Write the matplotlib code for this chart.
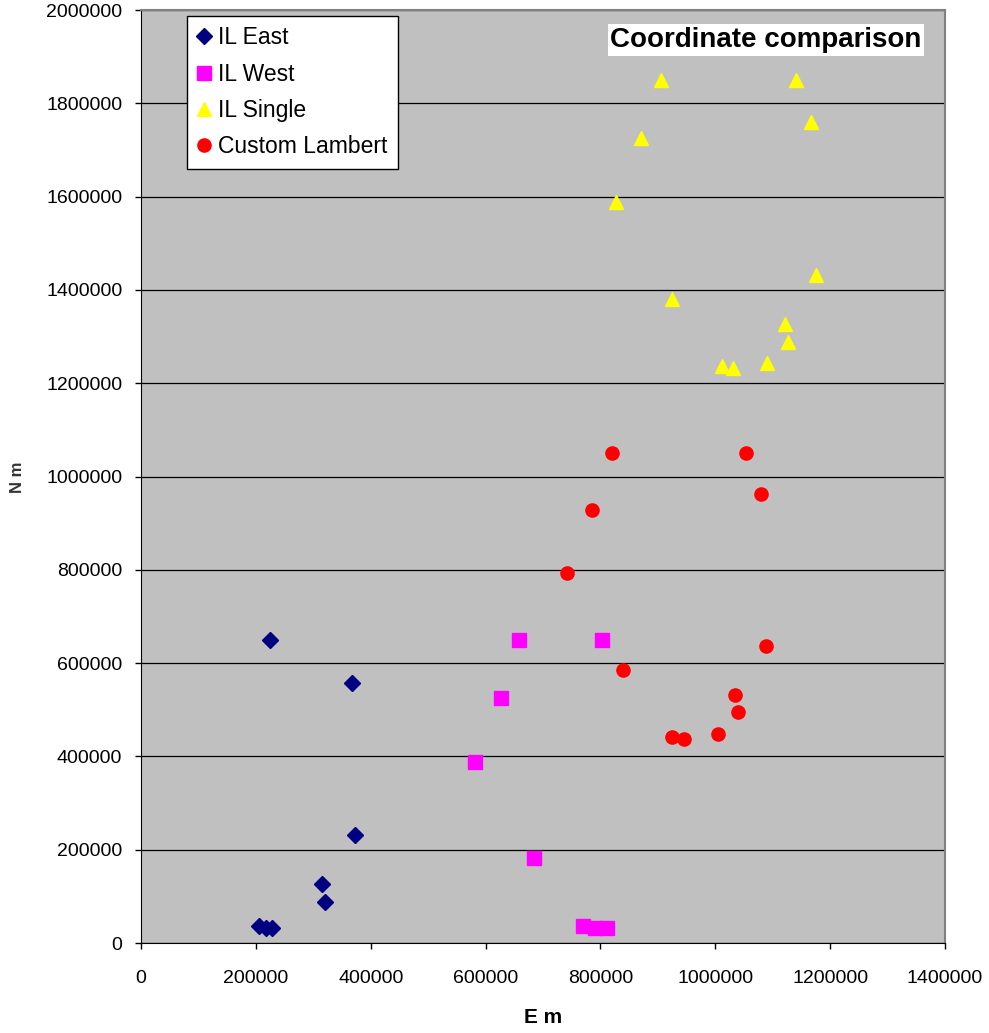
import matplotlib.pyplot as plt

plt.rcParams['font.family'] = ['Liberation Sans', 'DejaVu Sans']

# IL East
east_x = [225000, 368000, 373000, 316000, 321000, 206000, 218000, 228000]
east_y = [649000, 557000, 231000, 126000, 88000, 37000, 33000, 33000]

# IL West
west_x = [659000, 802000, 626000, 582000, 684000, 770000, 790000, 812000]
west_y = [650000, 650000, 525000, 388000, 182000, 36000, 33000, 33000]

# IL Single
single_x = [905000, 1140000, 870000, 1167000, 827000, 1175000, 924000,
            1121000, 1127000, 1011000, 1031000, 1090000]
single_y = [1849000, 1849000, 1725000, 1759000, 1588000, 1431000, 1380000,
            1326000, 1288000, 1236000, 1232000, 1243000]

# Custom Lambert
lambert_x = [820000, 1053000, 786000, 1079000, 741000, 1088000, 840000,
             1034000, 1039000, 924000, 945000, 1004000]
lambert_y = [1050000, 1050000, 928000, 962000, 793000, 636000, 585000,
             531000, 495000, 441000, 437000, 448000]

xticks = list(range(0, 1400001, 200000))
yticks = list(range(0, 2000001, 200000))

fig = plt.figure(figsize=(9.89, 10.33), dpi=100)
ax = fig.add_axes([141/989, 90/1033, 804/989, 933/1033])
ax.set_facecolor('#C0C0C0')

ax.plot(east_x, east_y, 'D', color='#000080', ms=8, label='IL East', zorder=3)
ax.plot(west_x, west_y, 's', color='#FF00FF', ms=9.5, label='IL West', zorder=3)
ax.plot(single_x, single_y, '^', color='#FFFF00', ms=10, label='IL Single', zorder=3)
ax.plot(lambert_x, lambert_y, 'o', color='#FF0000', ms=9.5, label='Custom Lambert', zorder=3)

ax.set_xlim(0, 1400000)
ax.set_ylim(0, 2000000)
ax.set_xticks(xticks)
ax.set_yticks(yticks)
ax.set_xticklabels([str(v) for v in xticks], fontsize=14)
ax.set_yticklabels([str(v) for v in yticks], fontsize=14)
ax.tick_params(direction='out', length=4.5, width=1, color='black')
ax.tick_params(axis='x', pad=15)
ax.tick_params(axis='y', pad=9)
ax.yaxis.grid(True, color='black', linewidth=0.9)
ax.set_axisbelow(True)

for s in ['top', 'right']:
    ax.spines[s].set_color('#808080')
    ax.spines[s].set_linewidth(1.5)
for s in ['left', 'bottom']:
    ax.spines[s].set_color('black')

ax.set_xlabel('E m', fontsize=15, fontweight='bold', labelpad=15)
fig.text(18/989, 1 - 477/1033, 'N m', fontsize=12, fontweight='bold', rotation=90,
         ha='center', va='center', color='#333333')

ax.text(0.971, 0.968, 'Coordinate comparison', transform=ax.transAxes, fontsize=20,
        fontweight='bold', ha='right', va='center',
        bbox=dict(facecolor='white', edgecolor='none', pad=2))

leg = ax.legend(loc='upper left', bbox_to_anchor=(46/804, (943-16)/933), fontsize=16.5,
                handlelength=0.6, handletextpad=0.3, borderpad=0.45, labelspacing=0.58,
                fancybox=False, framealpha=1, edgecolor='black', borderaxespad=0)
leg.get_frame().set_linewidth(1)

fig.savefig('out.png')
